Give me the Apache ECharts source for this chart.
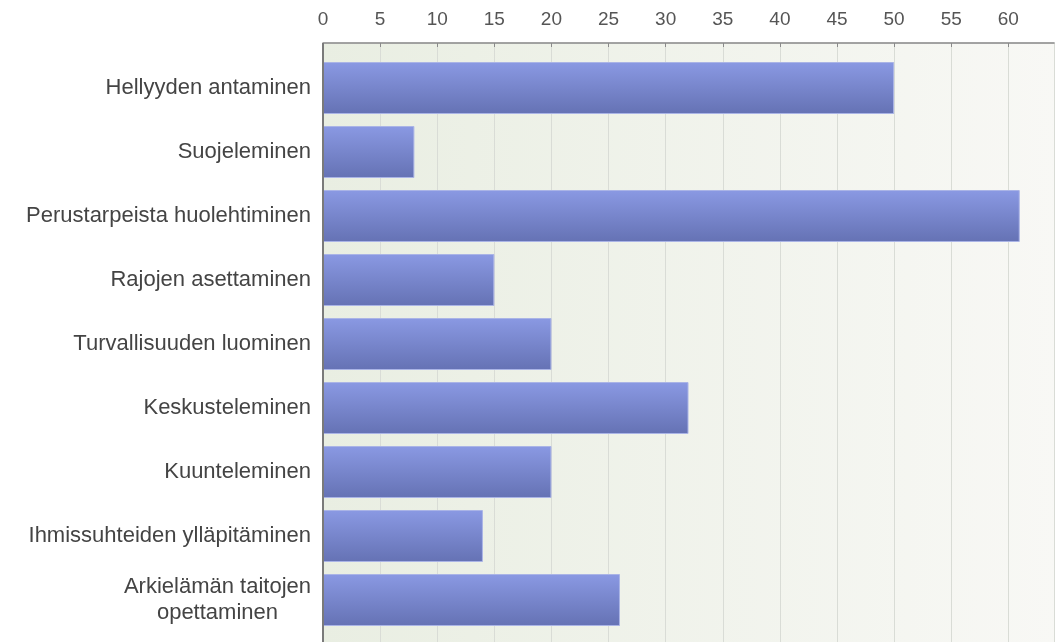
<!DOCTYPE html>
<html>
<head>
    <meta charset="utf-8">
    <style>
        html, body { margin: 0; padding: 0; background: #fff; }
        #chart { width: 1055px; height: 642px; }
    </style>
    <script src="https://cdn.jsdelivr.net/npm/echarts@6/dist/echarts.min.js"></script>
</head>
<body>
<div id="chart"></div>
<script type="text/javascript">
    var categories = [
        'Hellyyden antaminen',
        'Suojeleminen',
        'Perustarpeista huolehtiminen',
        'Rajojen asettaminen',
        'Turvallisuuden luominen',
        'Keskusteleminen',
        'Kuunteleminen',
        'Ihmissuhteiden ylläpitäminen',
        'Arkielämän taitojen\nopettaminen'
    ];
    var values = [50, 8, 61, 15, 20, 32, 20, 14, 26];
    var tickInterval = 5;
    var axisMax = 64;

    var chart = echarts.init(document.getElementById('chart'));

    var labelFont = 'Liberation Sans, Arial, sans-serif';

    var option = {
        animation: false,
        // plot background + left border, starting at the axis line above the first band
        graphic: [{
            type: 'rect',
            z: -10,
            silent: true,
            shape: { x: 323, y: 43, width: 732, height: 610 },
            style: {
                fill: new echarts.graphic.LinearGradient(0, 0, 1, 0, [
                    { offset: 0, color: '#e9eee2' },
                    { offset: 1, color: '#f8f8f5' }
                ]),
                stroke: '#d8d8d8',
                lineWidth: 1
            }
        }, {
            type: 'line',
            z: 10,
            silent: true,
            shape: { x1: 323, y1: 43, x2: 323, y2: 642 },
            style: { stroke: '#7a7a7a', lineWidth: 2 }
        }],
        grid: {
            left: 323,
            right: 1,
            top: 56,
            bottom: 10,
            containLabel: false
        },
        xAxis: [{
            type: 'value',
            position: 'top',
            offset: 13,
            min: 0,
            max: axisMax,
            interval: tickInterval,
            z: 5,
            axisLine: { show: true, lineStyle: { color: '#8a8a8a', width: 1.5 } },
            axisTick: { show: true, inside: true, length: 4, lineStyle: { color: '#8a8a8a' } },
            axisLabel: {
                color: '#555',
                fontFamily: labelFont,
                fontSize: 19,
                margin: 14,
                showMaxLabel: false
            },
            splitLine: { show: false }
        }, {
            // light vertical grid lines running up to the axis line
            type: 'value',
            position: 'top',
            offset: 13,
            min: 0,
            max: axisMax,
            interval: tickInterval,
            z: 0,
            axisLine: { show: false },
            axisTick: { show: true, inside: true, length: 620, lineStyle: { color: '#d9dcd6', width: 1 } },
            axisLabel: { show: false },
            splitLine: { show: false }
        }],
        yAxis: {
            type: 'category',
            inverse: true,
            data: categories,
            axisLine: { show: false },
            axisTick: { show: false },
            axisLabel: {
                color: '#444',
                fontFamily: labelFont,
                fontSize: 22,
                margin: 12,
                lineHeight: 26,
                formatter: function (v) {
                    if (v.indexOf('\n') >= 0) {
                        return v.split('\n').map(function (s) { return '{c|' + s + '}'; }).join('\n');
                    }
                    return v;
                },
                rich: {
                    c: {
                        align: 'center',
                        color: '#444',
                        fontFamily: labelFont,
                        fontSize: 22,
                        lineHeight: 26
                    }
                }
            }
        },
        series: [{
            type: 'bar',
            xAxisIndex: 0,
            data: values,
            barWidth: 52,
            z: 3,
            itemStyle: {
                color: new echarts.graphic.LinearGradient(0, 0, 0, 1, [
                    { offset: 0, color: '#8a99e3' },
                    { offset: 1, color: '#6572b4' }
                ]),
                borderColor: '#aab4e6',
                borderWidth: 1
            }
        }]
    };

    chart.setOption(option);
</script>
</body>
</html>
